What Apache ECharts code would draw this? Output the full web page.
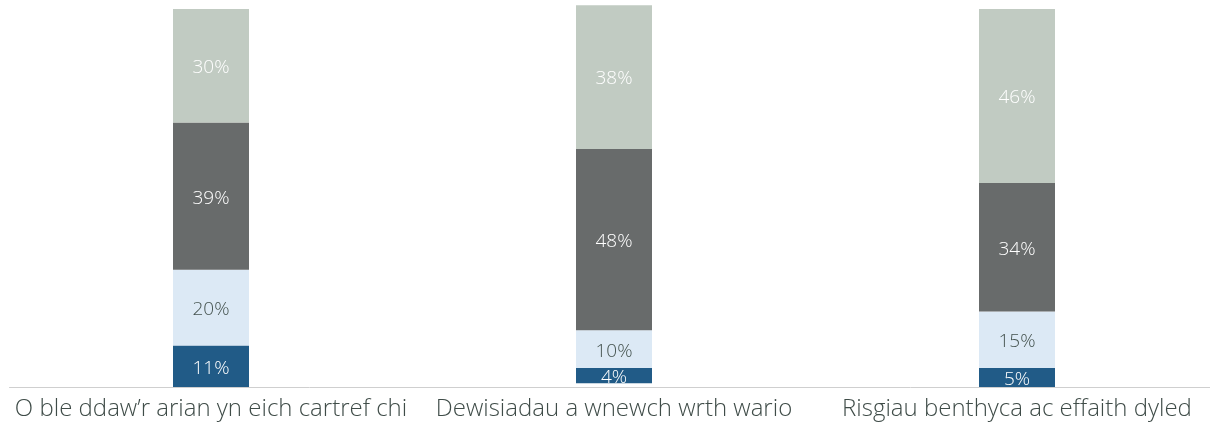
<!DOCTYPE html>
<html>
<head>
<meta charset="utf-8">
<script src="https://cdn.jsdelivr.net/npm/echarts@6/dist/echarts.min.js"></script>
<style>
  html, body { margin: 0; padding: 0; background: #fff; }
  #chart { width: 1210px; height: 423px; }
</style>
</head>
<body>
<div id="chart"></div>
<script>
// categorïau
const categories = [
  'O ble ddaw\u2019r arian yn eich cartref chi',
  'Dewisiadau a wnewch wrth wario',
  'Risgiau benthyca ac effaith dyled'
]
// segment bach gwag o dan yr ail far
const gapValues = [0, 1, 0]
const darkBlueValues = [11, 4, 5]
const lightBlueValues = [20, 10, 15]
const darkGreyValues = [39, 48, 34]
const lightGreyValues = [30, 38, 46]

const labelFont = '"Open Sans", sans-serif'

function makeSeries(name, data, color, textColor) {
  return {
    name,
    type: 'bar',
    stack: 'total',
    barWidth: 76,
    data,
    itemStyle: { color },
    label: {
      show: textColor != null,
      position: 'inside',
      offset: [0, 2],
      formatter: p => (p.value > 0 ? p.value + '%' : ''),
      color: textColor,
      fontSize: 19,
      fontWeight: 300,
      fontFamily: labelFont
    }
  }
}

const chart = echarts.init(document.getElementById('chart'))
chart.setOption({
  animation: false,
  grid: { left: 9.5, right: -8.5, top: 1.5, bottom: 36, outerBoundsMode: 'none' },
  xAxis: {
    type: 'category',
    data: categories,
    axisTick: { show: false },
    axisLine: { lineStyle: { color: '#cfcfcf', width: 1 } },
    axisLabel: {
      color: '#3f4c48',
      fontSize: 24,
      fontWeight: 300,
      fontFamily: labelFont,
      margin: 10,
      interval: 0
    }
  },
  yAxis: {
    type: 'value',
    min: 0,
    max: 102,
    show: false,
    splitLine: { show: false }
  },
  series: [
    makeSeries('gap', gapValues, 'rgba(255,255,255,0)', null),
    makeSeries('dark blue', darkBlueValues, '#215b87', '#ffffff'),
    makeSeries('light blue', lightBlueValues, '#dce9f5', '#44524e'),
    makeSeries('dark grey', darkGreyValues, '#686b6b', '#ffffff'),
    makeSeries('light grey', lightGreyValues, '#c1cbc2', '#ffffff')
  ]
})
</script>
</body>
</html>
